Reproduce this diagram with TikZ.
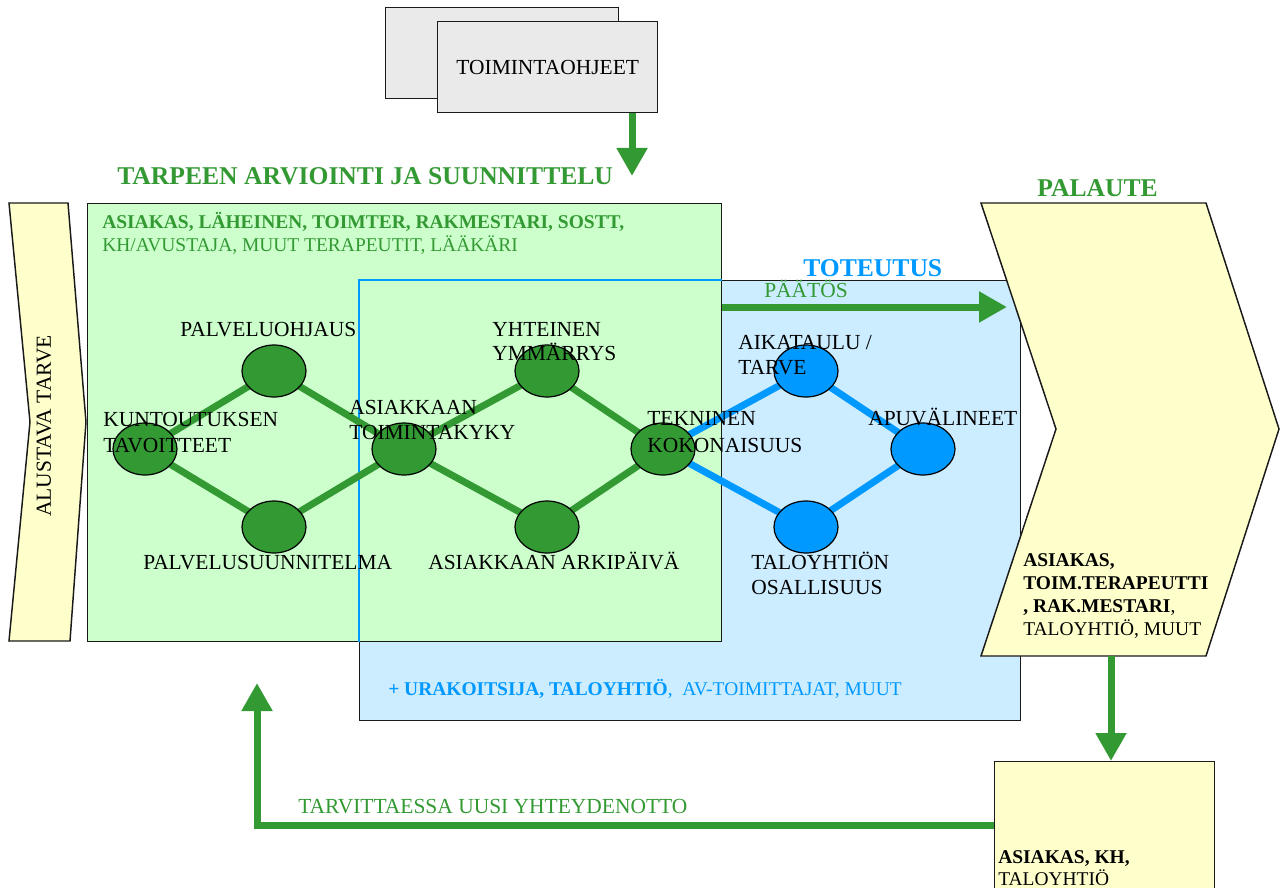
\documentclass[tikz,border=0pt]{standalone}
\usepackage{fontspec}
\setmainfont{Liberation Serif}
\usetikzlibrary{arrows.meta,shapes.geometric}
\definecolor{gfill}{HTML}{CCFFCC}
\definecolor{bfill}{HTML}{CCECFF}
\definecolor{yfill}{HTML}{FFFFCC}
\definecolor{grayfill}{HTML}{EAEAEA}
\definecolor{ggreen}{HTML}{339933}
\definecolor{bblue}{HTML}{0099FF}
\definecolor{edgecol}{HTML}{1A1A1A}
\pgfdeclarelayer{nodes}
\pgfdeclarelayer{labels}
\pgfsetlayers{main,nodes,labels}
\tikzset{
  lbl/.style={anchor=base west, inner sep=0pt, font=\fontsize{16.1}{19}\selectfont},
  sml/.style={anchor=base west, inner sep=0pt, font=\fontsize{14.6}{17}\selectfont},
  ttl/.style={anchor=base west, inner sep=0pt, font=\fontsize{19.2}{22}\selectfont\bfseries},
  gnode/.style={ellipse, draw=black, line width=0.9pt, fill=ggreen, minimum width=48pt, minimum height=39pt, inner sep=0pt},
  bnode/.style={gnode, fill=bblue},
  gline/.style={ggreen, line width=5.2pt},
  bline/.style={bblue, line width=5.2pt},
  garrow/.style={ggreen, line width=5.25pt, -{Triangle[length=21pt,width=22pt]}},
  frame/.style={draw=edgecol, line width=1.1pt, inner sep=0pt, anchor=north west},
}
\begin{document}
\begin{tikzpicture}[x=0.75pt,y=-0.75pt]
\useasboundingbox (0,0) rectangle (1285,888);
\clip (0,0) rectangle (1285,888);

% boxes
\node[frame, fill=bfill, minimum width=495.75pt, minimum height=330pt] (blue) at (359,280) {};
\node[frame, fill=gfill, minimum width=475.5pt, minimum height=328.5pt] (green) at (87,203) {};
\draw[bblue, line width=0.8pt] (blue.west |- green.south) -- (blue.north west) -- (green.east |- blue.north);

% chevrons
\draw[fill=yfill, draw=edgecol, line width=1.1pt] (981,203) -- (1206,203) -- (1279,429) -- (1206,656) -- (981,656) -- (1056,429) -- cycle;
\coordinate (palbottom) at (1111,656);
\draw[fill=yfill, draw=edgecol, line width=1.1pt] (9,203) -- (68,203) -- (86,422) -- (70,641) -- (9,641) -- (30,422) -- cycle;
\node[rotate=90, inner sep=0pt, font=\fontsize{16.1}{19}\selectfont] (alustava) at (44,426) {ALUSTAVA TARVE};

% bottom right box
\node[frame, fill=yfill, minimum width=165pt, minimum height=112.5pt] (bottombox) at (994,761) {};

% toimintaohjeet
\node[frame, fill=grayfill, minimum width=174.75pt, minimum height=68.25pt] (toimback) at (385,7) {};
\node[frame, fill=grayfill, minimum width=165pt, minimum height=68.25pt, font=\fontsize{16.1}{19}\selectfont] (toim) at (437,21) {TOIMINTAOHJEET};

% arrows
\coordinate (toimtip) at (632,176);
\draw[garrow] (toim.south -| toimtip) -- (toimtip);
\coordinate (paatostip) at (1007,307);
\draw[garrow] (green.east |- paatostip) -- (paatostip);
\draw[garrow] (palbottom) -- (bottombox.north -| palbottom);
\coordinate (fbtip) at (257,683);
\coordinate (fby) at (0,825);
\draw[garrow] (bottombox.west |- fby) -| (fbtip);

% titles and texts
\node[ttl, text=ggreen] (t1) at (117,185) {TARPEEN ARVIOINTI JA SUUNNITTELU};
\node[ttl, text=ggreen] (t2) at (1037,197) {PALAUTE};
\node[ttl, text=bblue] (t3) at (803,276) {TOTEUTUS};
\node[lbl, text=ggreen] (paatos) at (764,297) {PÄÄTÖS};
\node[sml, text=ggreen, font=\fontsize{14.6}{17}\selectfont\bfseries] (h1) at (102,228.5) {ASIAKAS, LÄHEINEN, TOIMTER, RAKMESTARI, SOSTT,};
\node[sml, text=ggreen] (h2) at (102,252) {KH/AVUSTAJA, MUUT TERAPEUTIT, LÄÄKÄRI};
\node[sml, text=bblue] (bt) at (388,695.5) {\textbf{+ URAKOITSIJA, TALOYHTIÖ},\ \ AV-TOIMITTAJAT, MUUT};
\node[sml, font=\fontsize{14.6}{17}\selectfont\bfseries] (p1) at (1023,566.5) {ASIAKAS,};
\node[sml, font=\fontsize{14.6}{17}\selectfont\bfseries] (p2) at (1023,589.5) {TOIM.TERAPEUTTI};
\node[sml] (p3) at (1023,612.5) {\textbf{, RAK.MESTARI},};
\node[sml] (p4) at (1023,635.5) {TALOYHTIÖ, MUUT};
\node[sml, font=\fontsize{14.6}{17}\selectfont\bfseries] (b1) at (998,863) {ASIAKAS, KH,};
\node[sml] (b2) at (998,885.5) {TALOYHTIÖ};
\node[lbl, text=ggreen] (fbtext) at (298,813) {TARVITTAESSA UUSI YHTEYDENOTTO};

% network nodes
\begin{pgfonlayer}{nodes}
\node[gnode] (k) at (145,449) {};
\node[gnode] (po) at (274,371) {};
\node[gnode] (ps) at (274,527) {};
\node[gnode] (at) at (404,449) {};
\node[gnode] (yy) at (547,371) {};
\node[gnode] (ap) at (547,527) {};
\node[gnode] (tk) at (663,449) {};
\node[bnode] (ai) at (806,371) {};
\node[bnode] (av) at (923,449) {};
\node[bnode] (ty) at (806,527) {};
\end{pgfonlayer}

\draw[gline] (k.center) -- (po.center);
\draw[gline] (k.center) -- (ps.center);
\draw[gline] (po.center) -- (at.center);
\draw[gline] (ps.center) -- (at.center);
\draw[gline] (at.center) -- (yy.center);
\draw[gline] (at.center) -- (ap.center);
\draw[gline] (yy.center) -- (tk.center);
\draw[gline] (ap.center) -- (tk.center);
\draw[bline] (tk.center) -- (ai.center);
\draw[bline] (tk.center) -- (ty.center);
\draw[bline] (ai.center) -- (av.center);
\draw[bline] (ty.center) -- (av.center);

\begin{pgfonlayer}{labels}
\node[lbl] (lpo) at (180,336) {PALVELUOHJAUS};
\node[lbl] (lk1) at (103,426) {KUNTOUTUKSEN};
\node[lbl] (lk2) at (103,452) {TAVOITTEET};
\node[lbl] (lat1) at (349,414) {ASIAKKAAN};
\node[lbl] (lat2) at (349,439) {TOIMINTAKYKY};
\node[lbl] (lps) at (143,569) {PALVELUSUUNNITELMA};
\node[lbl] (lyy1) at (492,336) {YHTEINEN};
\node[lbl] (lyy2) at (492,360) {YMMÄRRYS};
\node[lbl] (lap) at (428,569) {ASIAKKAAN ARKIPÄIVÄ};
\node[lbl] (ltk1) at (647,425) {TEKNINEN};
\node[lbl] (ltk2) at (647,452) {KOKONAISUUS};
\node[lbl] (lai1) at (738,349) {AIKATAULU /};
\node[lbl] (lai2) at (738,374) {TARVE};
\node[lbl] (lav) at (868,425) {APUVÄLINEET};
\node[lbl] (lty1) at (751,569) {TALOYHTIÖN};
\node[lbl] (lty2) at (751,594) {OSALLISUUS};
\end{pgfonlayer}
\end{tikzpicture}
\end{document}
